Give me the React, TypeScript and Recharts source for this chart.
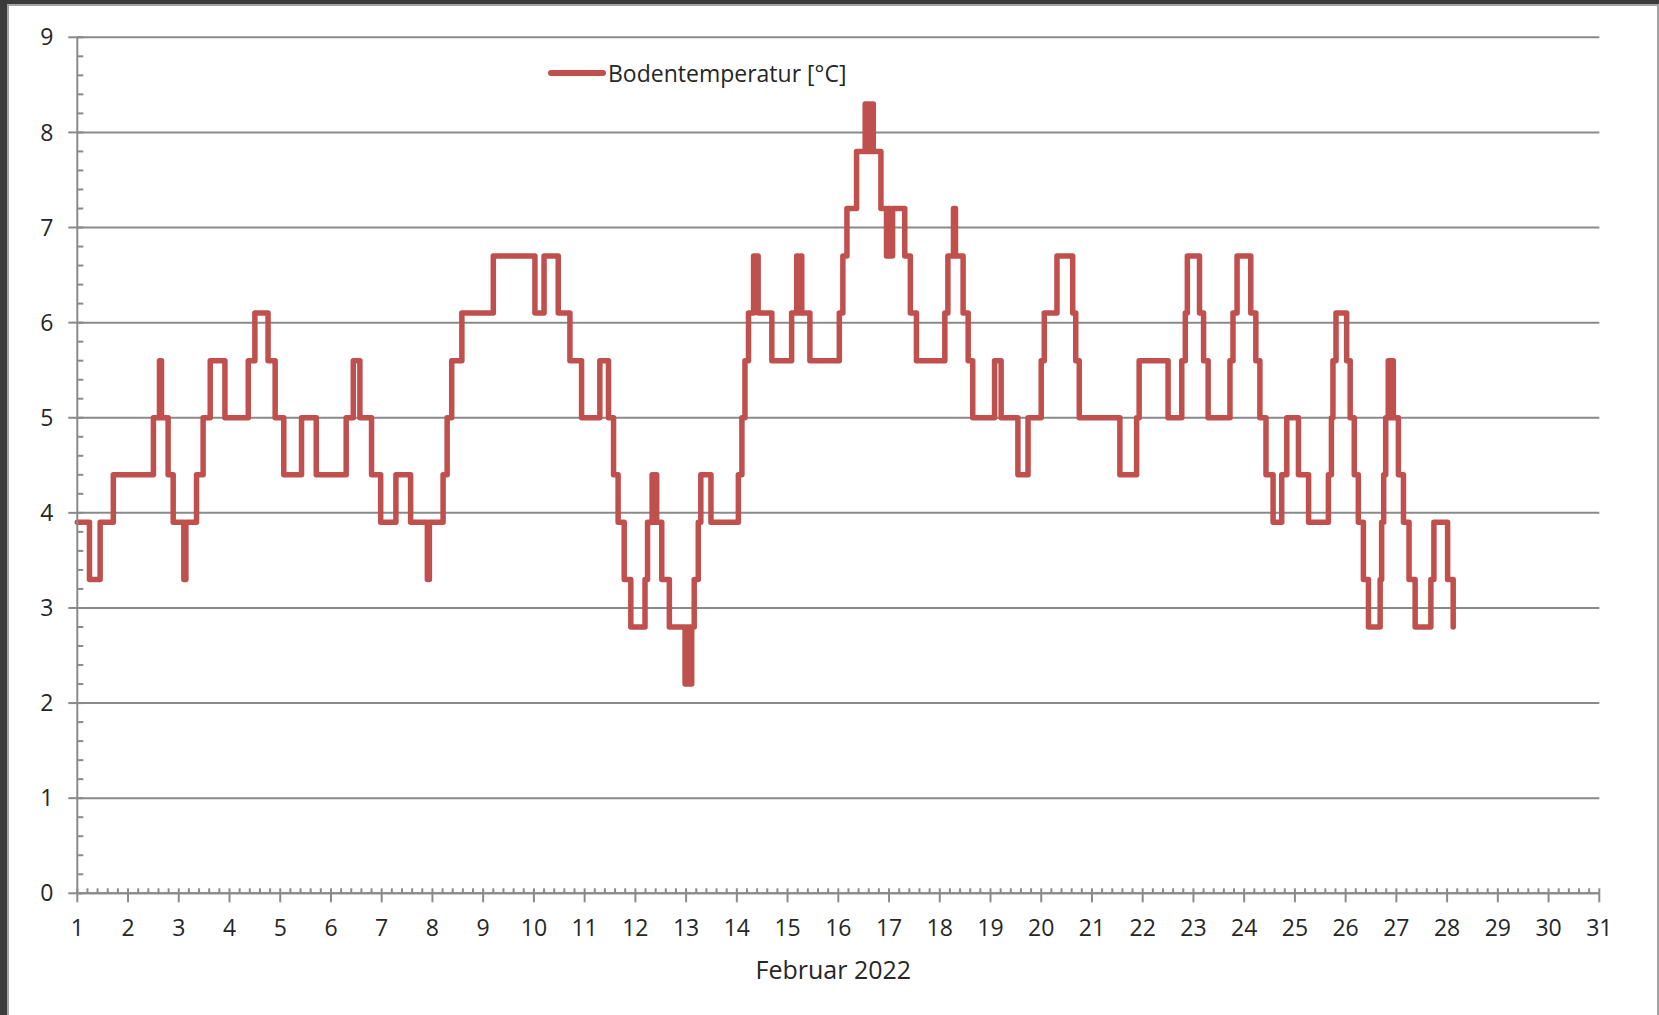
import React from "react";
import { LineChart, Line, XAxis, YAxis, ReferenceLine, Legend } from "recharts";

// Time of each change (day of February 2022) and soil temperature from that moment on [°C]
const days = [
  1.0, 1.24, 1.45, 1.71, 2.5, 2.62, 2.66, 2.79, 2.89, 3.1,
  3.14, 3.35, 3.48, 3.62, 3.91, 4.37, 4.5, 4.76, 4.9, 5.07,
  5.42, 5.71, 6.3, 6.44, 6.57, 6.8, 6.98, 7.28, 7.57, 7.9,
  7.94, 8.21, 8.29, 8.38, 8.58, 9.2, 10.02, 10.2, 10.48, 10.71,
  10.94, 11.3, 11.47, 11.57, 11.66, 11.78, 11.91, 12.19, 12.24, 12.33,
  12.36, 12.39, 12.42, 12.52, 12.67, 12.98, 13.02, 13.06, 13.11, 13.16,
  13.24, 13.29, 13.49, 14.03, 14.1, 14.16, 14.23, 14.33, 14.42, 14.69,
  15.08, 15.18, 15.21, 15.25, 15.28, 15.44, 16.02, 16.09, 16.17, 16.36,
  16.53, 16.57, 16.6, 16.63, 16.66, 16.69, 16.84, 16.95, 16.99, 17.02,
  17.07, 17.31, 17.42, 17.54, 18.1, 18.16, 18.27, 18.31, 18.46, 18.56,
  18.65, 19.08, 19.21, 19.54, 19.74, 20.0, 20.06, 20.31, 20.62, 20.68,
  20.75, 21.55, 21.88, 21.93, 22.5, 22.77, 22.84, 22.88, 23.12, 23.2,
  23.29, 23.72, 23.78, 23.86, 24.13, 24.23, 24.31, 24.43, 24.57, 24.74,
  24.84, 25.07, 25.27, 25.66, 25.72, 25.75, 25.81, 26.02, 26.09, 26.17,
  26.25, 26.35, 26.45, 26.68, 26.71, 26.75, 26.79, 26.84, 26.88, 26.91,
  26.94, 27.04, 27.14, 27.25, 27.37, 27.68, 27.74, 28.01, 28.12,
];

const temps = [
  3.9, 3.3, 3.9, 4.4, 5.0, 5.6, 5.0, 4.4, 3.9, 3.3,
  3.9, 4.4, 5.0, 5.6, 5.0, 5.6, 6.1, 5.6, 5.0, 4.4,
  5.0, 4.4, 5.0, 5.6, 5.0, 4.4, 3.9, 4.4, 3.9, 3.3,
  3.9, 4.4, 5.0, 5.6, 6.1, 6.7, 6.1, 6.7, 6.1, 5.6,
  5.0, 5.6, 5.0, 4.4, 3.9, 3.3, 2.8, 3.3, 3.9, 4.4,
  3.9, 4.4, 3.9, 3.3, 2.8, 2.2, 2.8, 2.2, 2.8, 3.3,
  3.9, 4.4, 3.9, 4.4, 5.0, 5.6, 6.1, 6.7, 6.1, 5.6,
  6.1, 6.7, 6.1, 6.7, 6.1, 5.6, 6.1, 6.7, 7.2, 7.8,
  8.3, 7.8, 8.3, 7.8, 8.3, 7.8, 7.2, 6.7, 7.2, 6.7,
  7.2, 6.7, 6.1, 5.6, 6.1, 6.7, 7.2, 6.7, 6.1, 5.6,
  5.0, 5.6, 5.0, 4.4, 5.0, 5.6, 6.1, 6.7, 6.1, 5.6,
  5.0, 4.4, 5.0, 5.6, 5.0, 5.6, 6.1, 6.7, 6.1, 5.6,
  5.0, 5.6, 6.1, 6.7, 6.1, 5.6, 5.0, 4.4, 3.9, 4.4,
  5.0, 4.4, 3.9, 4.4, 5.0, 5.6, 6.1, 5.6, 5.0, 4.4,
  3.9, 3.3, 2.8, 3.3, 3.9, 4.4, 5.0, 5.6, 5.0, 5.6,
  5.0, 4.4, 3.9, 3.3, 2.8, 3.3, 3.9, 3.3, 2.8,
];

const xTicks = [1, 2, 3, 4, 5, 6, 7, 8, 9, 10, 11, 12, 13, 14, 15, 16, 17, 18, 19, 20, 21, 22, 23, 24, 25, 26, 27, 28, 29, 30, 31];
const yTicks = [0, 1, 2, 3, 4, 5, 6, 7, 8, 9];
const seriesName = "Bodentemperatur [°C]";
const xTitle = "Februar 2022";

const xMinorTicks: number[] = [];
for (let i = 0; i <= 150; i++) xMinorTicks.push(Math.round((1 + i * 0.2) * 100) / 100);
const yMinorTicks: number[] = [];
for (let i = 0; i <= 45; i++) yMinorTicks.push(Math.round(i * 0.2 * 100) / 100);

const data = days.map((d, i) => ({ day: d, t: temps[i] }));

const FONT = "'Open Sans', sans-serif";
const TEXT = "#262626";
const GRID = "#8a8a8a";
const RED = "#C0504D";

const LegendContent = (props: any) => {
  const items = props.payload || [];
  return (
    <div style={{ display: "flex", flexDirection: "column" }}>
      {items.map((it: any) => (
        <div key={it.value} style={{ display: "flex", alignItems: "center", height: 28 }}>
          <svg width={58} height={12} style={{ display: "block" }}>
            <line x1={3} y1={6} x2={55} y2={6} stroke={it.color} strokeWidth={6} strokeLinecap="round" />
          </svg>
          <span style={{ fontFamily: FONT, fontSize: 23, color: TEXT, marginLeft: 2, whiteSpace: "nowrap" }}>
            {it.value}
          </span>
        </div>
      ))}
    </div>
  );
};

const NoLabel = () => <g />;

// y-axis tick: every 0.2 a short inner tick; at whole numbers an outer tick and the label
const YTick = (props: any) => {
  const { x, y, payload } = props;
  const v = payload.value;
  const major = yTicks.indexOf(v) >= 0;
  return (
    <g>
      <line x1={x} y1={y} x2={x + 6} y2={y} stroke={GRID} strokeWidth={2} />
      {major && <line x1={x - 9} y1={y} x2={x} y2={y} stroke={GRID} strokeWidth={2} />}
      {major && (
        <text x={x - 24} y={y} dy="0.355em" textAnchor="end" fill={TEXT} fontSize={23} fontFamily={FONT}>
          {v}
        </text>
      )}
    </g>
  );
};

export default function App() {
  return (
    <div style={{ position: "fixed", left: 0, top: 0, width: 1659, height: 1015, background: "#ffffff", overflow: "hidden" }}>
      <div style={{ position: "absolute", left: 0, top: 0, width: 1659, height: 4, background: "#3b3b3b" }} />
      <div style={{ position: "absolute", left: 0, top: 0, width: 7, height: 1015, background: "#3b3b3b" }} />
      <div style={{ position: "absolute", left: 7, top: 4, width: 1652, height: 2, background: "#a3a3a3" }} />
      <div style={{ position: "absolute", left: 7, top: 4, width: 2, height: 1011, background: "#a3a3a3" }} />
      <div style={{ position: "absolute", left: 1657, top: 4, width: 2, height: 1011, background: "#a3a3a3" }} />
      <div style={{ position: "absolute", left: 0, top: 0 }}>
        <LineChart
          width={1659}
          height={1015}
          data={data}
          margin={{ top: 37.3, right: 59.7, left: 7.3, bottom: 21.7 }}
        >
          {yTicks.map((v) => (
            <ReferenceLine key={"g" + v} y={v} stroke={GRID} strokeWidth={2} ifOverflow="extendDomain" />
          ))}
          <XAxis
            dataKey="day"
            type="number"
            domain={[1, 31]}
            ticks={xTicks}
            interval={0}
            height={100}
            tickSize={9}
            tickMargin={17}
            axisLine={{ stroke: GRID, strokeWidth: 2 }}
            tickLine={{ stroke: GRID, strokeWidth: 2 }}
            tick={{ fill: TEXT, fontSize: 23, fontFamily: FONT }}
            label={{ value: xTitle, position: "insideBottom", offset: 14, dx: -5, fill: TEXT, fontSize: 25, fontFamily: FONT }}
          />
          <XAxis
            xAxisId="minor"
            dataKey="day"
            type="number"
            domain={[1, 31]}
            ticks={xMinorTicks}
            interval={0}
            mirror
            height={30}
            tickSize={5}
            axisLine={false}
            tick={<NoLabel />}
            tickLine={{ stroke: GRID, strokeWidth: 2 }}
          />
          <YAxis
            type="number"
            domain={[0, 9]}
            ticks={yMinorTicks}
            interval={0}
            width={70}
            tickSize={0}
            tickMargin={0}
            axisLine={{ stroke: GRID, strokeWidth: 2 }}
            tickLine={false}
            tick={<YTick />}
          />
          <Legend
            layout="vertical"
            align="center"
            verticalAlign="middle"
            wrapperStyle={{ left: 548, top: 59, width: 340 }}
            content={<LegendContent />}
          />
          <Line
            name={seriesName}
            type="stepAfter"
            dataKey="t"
            stroke={RED}
            strokeWidth={5.5}
            strokeLinejoin="round"
            strokeLinecap="round"
            dot={false}
            activeDot={false}
            isAnimationActive={false}
          />
        </LineChart>
      </div>
    </div>
  );
}
